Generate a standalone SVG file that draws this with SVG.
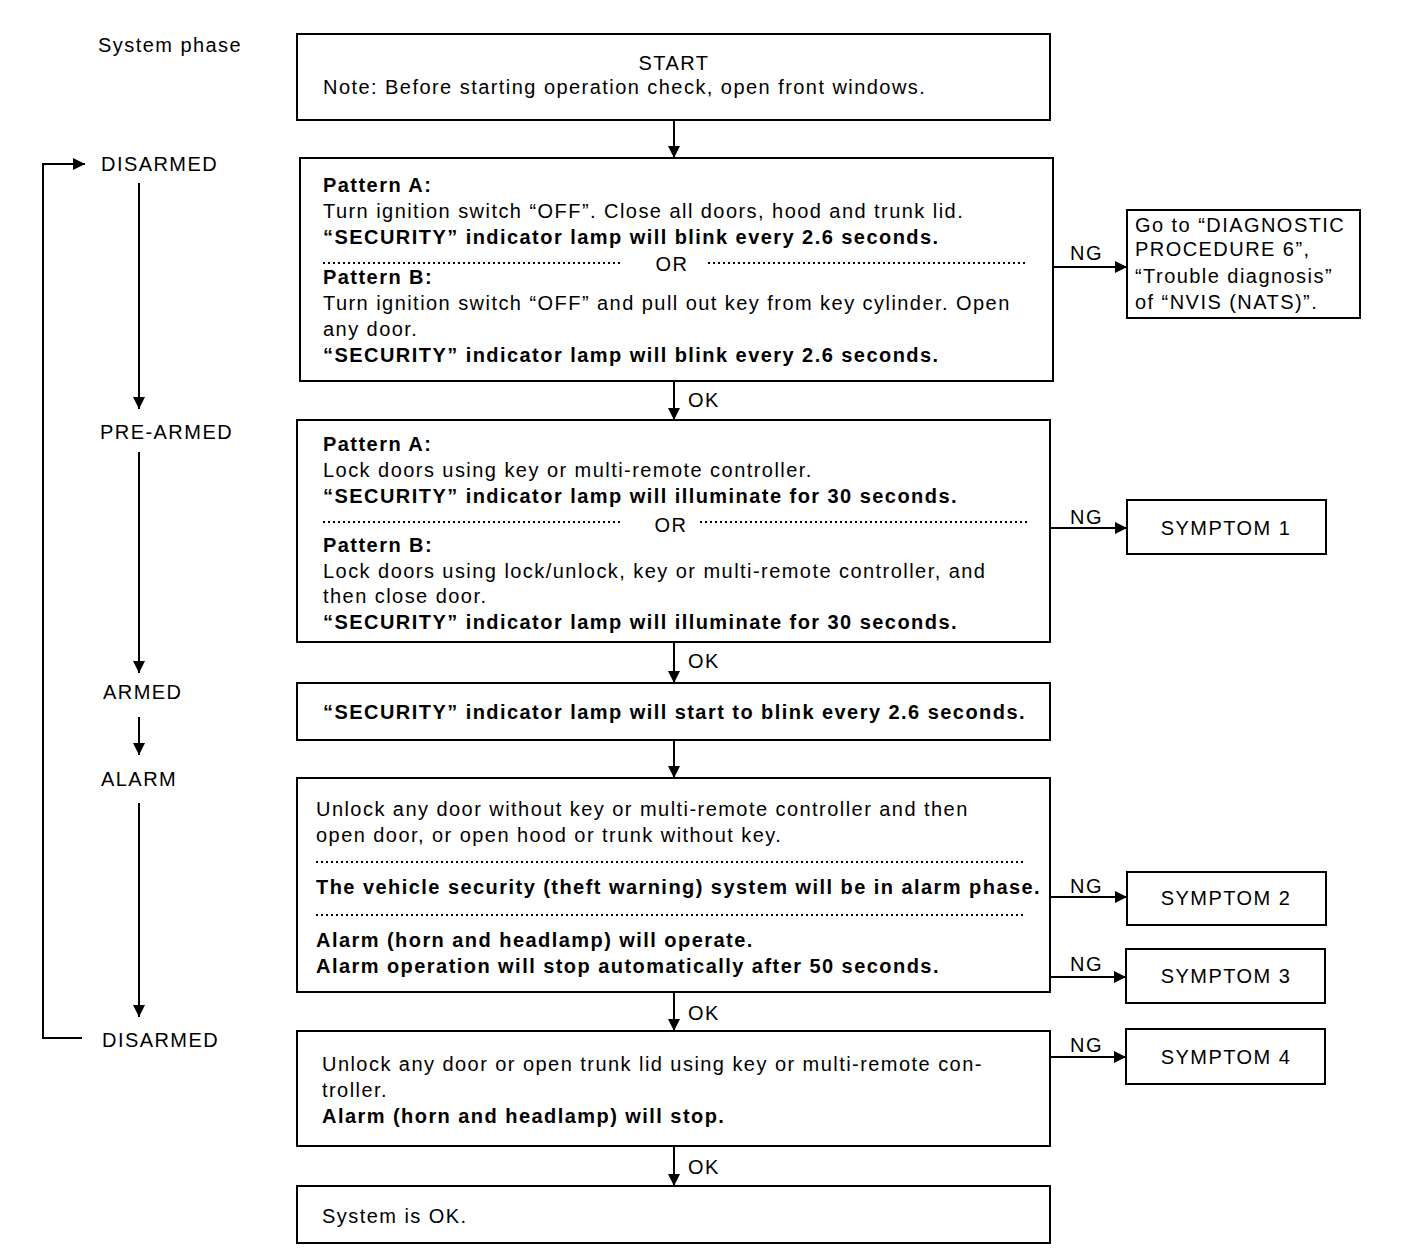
<svg xmlns="http://www.w3.org/2000/svg" width="1408" height="1260" viewBox="0 0 1408 1260">
<style>
text{font-family:"Liberation Sans",Arial,sans-serif;font-size:20px;letter-spacing:1.45px;fill:#000}
.b{font-weight:bold}
.m{text-anchor:middle}
.box{fill:#fff;stroke:#000;stroke-width:2}
.ln{fill:none;stroke:#000;stroke-width:2}
.dot{fill:none;stroke:#000;stroke-width:2;stroke-dasharray:2 3}
</style>
<defs>
<marker id="ah" viewBox="0 0 12 12" refX="12" refY="6" markerWidth="12" markerHeight="12" markerUnits="userSpaceOnUse" orient="auto">
<path d="M0,0 L12,6 L0,12 z" fill="#000"/>
</marker>
</defs>
<rect width="1408" height="1260" fill="#fff"/>

<g id="phases">
<text x="98" y="52">System phase</text>
<text x="101" y="171">DISARMED</text>
<text x="100" y="439">PRE-ARMED</text>
<text x="103" y="699">ARMED</text>
<text x="101" y="786">ALARM</text>
<text x="102" y="1047">DISARMED</text>
</g>

<g id="connectors">
<path class="ln" d="M82,1038 H43 V164 H85" marker-end="url(#ah)"/>
<line class="ln" x1="139" y1="183" x2="139" y2="409" marker-end="url(#ah)"/>
<line class="ln" x1="139" y1="452" x2="139" y2="673" marker-end="url(#ah)"/>
<line class="ln" x1="139" y1="717" x2="139" y2="755" marker-end="url(#ah)"/>
<line class="ln" x1="139" y1="803" x2="139" y2="1017" marker-end="url(#ah)"/>

<line class="ln" x1="674" y1="120" x2="674" y2="158" marker-end="url(#ah)"/>
<line class="ln" x1="674" y1="381" x2="674" y2="420" marker-end="url(#ah)"/>
<line class="ln" x1="674" y1="642" x2="674" y2="683" marker-end="url(#ah)"/>
<line class="ln" x1="674" y1="740" x2="674" y2="778" marker-end="url(#ah)"/>
<line class="ln" x1="674" y1="992" x2="674" y2="1031" marker-end="url(#ah)"/>
<line class="ln" x1="674" y1="1146" x2="674" y2="1186" marker-end="url(#ah)"/>
<text x="688" y="407">OK</text>
<text x="688" y="668">OK</text>
<text x="688" y="1020">OK</text>
<text x="688" y="1174">OK</text>

<line class="ln" x1="1053" y1="267" x2="1127" y2="267" marker-end="url(#ah)"/>
<line class="ln" x1="1050" y1="528" x2="1127" y2="528" marker-end="url(#ah)"/>
<line class="ln" x1="1050" y1="897" x2="1127" y2="897" marker-end="url(#ah)"/>
<line class="ln" x1="1050" y1="977" x2="1126" y2="977" marker-end="url(#ah)"/>
<line class="ln" x1="1050" y1="1057" x2="1126" y2="1057" marker-end="url(#ah)"/>
<text x="1070" y="260">NG</text>
<text x="1070" y="524">NG</text>
<text x="1070" y="893">NG</text>
<text x="1070" y="971">NG</text>
<text x="1070" y="1052">NG</text>
</g>

<g id="start">
<rect class="box" x="297" y="34" width="753" height="86"/>
<text class="m" x="674" y="70">START</text>
<text x="323" y="94">Note: Before starting operation check, open front windows.</text>
</g>

<g id="disarmed-check">
<rect class="box" x="300" y="158" width="753" height="223"/>
<text class="b" x="323" y="192">Pattern A:</text>
<text x="323" y="218">Turn ignition switch “OFF”. Close all doors, hood and trunk lid.</text>
<text class="b" x="323" y="244">“SECURITY” indicator lamp will blink every 2.6 seconds.</text>
<line class="dot" x1="323" y1="263" x2="623" y2="263"/>
<text class="m" x="672" y="271">OR</text>
<line class="dot" x1="708" y1="263" x2="1028" y2="263"/>
<text class="b" x="323" y="284">Pattern B:</text>
<text x="323" y="310">Turn ignition switch “OFF” and pull out key from key cylinder. Open</text>
<text x="323" y="336">any door.</text>
<text class="b" x="323" y="362">“SECURITY” indicator lamp will blink every 2.6 seconds.</text>
</g>

<g id="nvis">
<rect class="box" x="1127" y="210" width="233" height="108"/>
<text x="1135" y="232">Go to “DIAGNOSTIC</text>
<text x="1135" y="256">PROCEDURE 6”,</text>
<text x="1135" y="283">“Trouble diagnosis”</text>
<text x="1135" y="309">of “NVIS (NATS)”.</text>
</g>

<g id="prearmed-check">
<rect class="box" x="297" y="420" width="753" height="222"/>
<text class="b" x="323" y="451">Pattern A:</text>
<text x="323" y="477">Lock doors using key or multi-remote controller.</text>
<text class="b" x="323" y="503">“SECURITY” indicator lamp will illuminate for 30 seconds.</text>
<line class="dot" x1="323" y1="522" x2="623" y2="522"/>
<text class="m" x="671" y="532">OR</text>
<line class="dot" x1="700" y1="522" x2="1028" y2="522"/>
<text class="b" x="323" y="552">Pattern B:</text>
<text x="323" y="578">Lock doors using lock/unlock, key or multi-remote controller, and</text>
<text x="323" y="603">then close door.</text>
<text class="b" x="323" y="629">“SECURITY” indicator lamp will illuminate for 30 seconds.</text>
</g>

<g id="symptom1">
<rect class="box" x="1127" y="500" width="199" height="54"/>
<text class="m" x="1226" y="535">SYMPTOM 1</text>
</g>

<g id="armed-check">
<rect class="box" x="297" y="683" width="753" height="57"/>
<text class="b" x="323" y="719">“SECURITY” indicator lamp will start to blink every 2.6 seconds.</text>
</g>

<g id="alarm-check">
<rect class="box" x="297" y="778" width="753" height="214"/>
<text x="316" y="816">Unlock any door without key or multi-remote controller and then</text>
<text x="316" y="842">open door, or open hood or trunk without key.</text>
<line class="dot" x1="316" y1="862" x2="1025" y2="862"/>
<text class="b" x="316" y="894">The vehicle security (theft warning) system will be in alarm phase.</text>
<line class="dot" x1="316" y1="915" x2="1025" y2="915"/>
<text class="b" x="316" y="947">Alarm (horn and headlamp) will operate.</text>
<text class="b" x="316" y="973">Alarm operation will stop automatically after 50 seconds.</text>
</g>

<g id="symptom2">
<rect class="box" x="1127" y="872" width="199" height="53"/>
<text class="m" x="1226" y="905">SYMPTOM 2</text>
</g>
<g id="symptom3">
<rect class="box" x="1126" y="949" width="199" height="54"/>
<text class="m" x="1226" y="983">SYMPTOM 3</text>
</g>

<g id="disarm-check">
<rect class="box" x="297" y="1031" width="753" height="115"/>
<text x="322" y="1071">Unlock any door or open trunk lid using key or multi-remote con-</text>
<text x="322" y="1097">troller.</text>
<text class="b" x="322" y="1123">Alarm (horn and headlamp) will stop.</text>
</g>

<g id="symptom4">
<rect class="box" x="1126" y="1029" width="199" height="55"/>
<text class="m" x="1226" y="1064">SYMPTOM 4</text>
</g>

<g id="ok">
<rect class="box" x="297" y="1186" width="753" height="57"/>
<text x="322" y="1223">System is OK.</text>
</g>
</svg>
